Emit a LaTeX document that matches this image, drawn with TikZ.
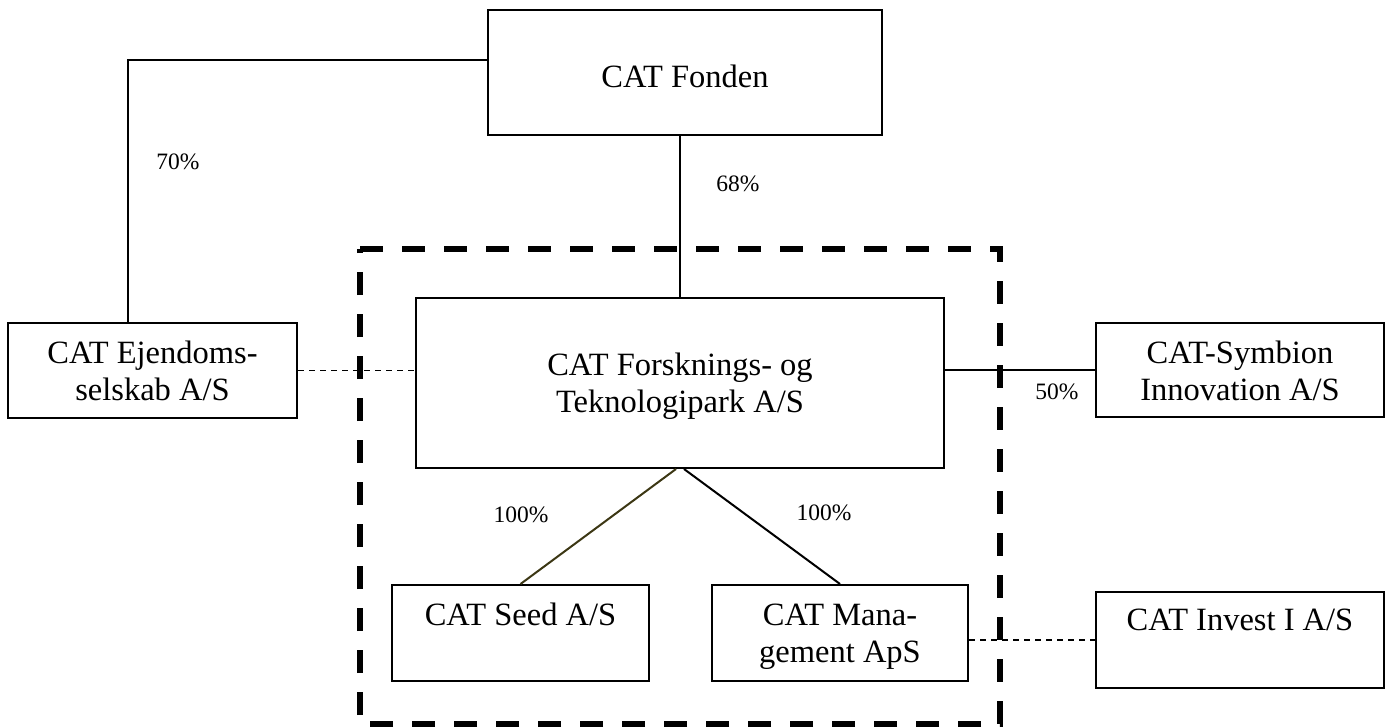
\documentclass[tikz,border=0pt]{standalone}
\usepackage{fontspec}
\setmainfont{Liberation Serif}
\usetikzlibrary{calc}
\definecolor{olivedark}{RGB}{60,55,20}
\tikzset{
  box/.style={draw=black, line width=2pt, rectangle, inner sep=0pt},
  boxtext/.style={anchor=base, inner sep=0pt, font=\fontsize{32.5}{37}\selectfont},
  pct/.style={inner sep=0pt, font=\fontsize{23.5}{28}\selectfont},
  link/.style={draw=black, line width=2pt},
  dotlink/.style={draw=black, line width=1.8pt, dash pattern=on 6pt off 5pt},
  frame/.style={draw=black, line width=6pt, dash pattern=on 23pt off 19pt, line join=miter}
}
\begin{document}
\begin{tikzpicture}[x=1pt,y=-1pt]
\useasboundingbox (0,0) rectangle (1390,728);
% boxes
\node[box, minimum width=394pt, minimum height=125pt] (fonden) at (685,72.5) {};
\node[box, minimum width=289pt, minimum height=95pt] (ejend) at (152.5,370.5) {};
\node[box, minimum width=528pt, minimum height=170pt] (forsk) at (680,383) {};
\node[box, minimum width=288pt, minimum height=94pt] (symb) at (1240,370) {};
\node[box, minimum width=257pt, minimum height=96pt] (seed) at (520.5,633) {};
\node[box, minimum width=256pt, minimum height=96pt] (mgmt) at (840,633) {};
\node[box, minimum width=288pt, minimum height=96pt] (invest) at (1240,640) {};
% texts
\node[boxtext] (fondenT) at (685,87) {CAT Fonden};
\node[boxtext] (ejendT1) at (152.5,363) {CAT Ejendoms-};
\node[boxtext] (ejendT2) at (152.5,400) {selskab A/S};
\node[boxtext] (forskT1) at (680,375) {CAT Forsknings- og};
\node[boxtext] (forskT2) at (680,412) {Teknologipark A/S};
\node[boxtext] (symbT1) at (1240,363) {CAT-Symbion};
\node[boxtext] (symbT2) at (1240,400) {Innovation A/S};
\node[boxtext] (seedT) at (520.5,625) {CAT Seed A/S};
\node[boxtext] (mgmtT1) at (840,625) {CAT Mana-};
\node[boxtext] (mgmtT2) at (840,662) {gement ApS};
\node[boxtext] (investT) at (1240,630) {CAT Invest I A/S};
% connectors
\draw[link] ($(fonden.north west)!0.4!(fonden.south west)$) -| ($(ejend.north west)!0.415!(ejend.north east)$);
\draw[link] (forsk.north |- fonden.south) -- (forsk.north);
\draw[dotlink] (ejend.east) -- (ejend.east -| forsk.west);
\draw[link] (forsk.east |- symb.west) -- (symb.west);
\draw[link, draw=olivedark] ([xshift=-4pt]forsk.south) -- (seed.north);
\draw[link] ([xshift=4pt]forsk.south) -- (mgmt.north);
\draw[dotlink] (mgmt.east |- invest.west) -- (invest.west);
% dashed frame
\coordinate (fTL) at (360,249);
\coordinate (fTR) at (1000,249);
\coordinate (fBR) at (1000,724);
\coordinate (fBL) at (360,724);
\draw[frame] (fTL) -- (fTR) -- (fBR) -- (fBL) -- cycle;
% percentages
\node[pct] (p70) at (178,162) {70\%};
\node[pct] (p68) at (738,184) {68\%};
\node[pct] (p50) at (1057,392) {50\%};
\node[pct] (p100a) at (521,515) {100\%};
\node[pct] (p100b) at (824,513) {100\%};
\end{tikzpicture}
\end{document}
